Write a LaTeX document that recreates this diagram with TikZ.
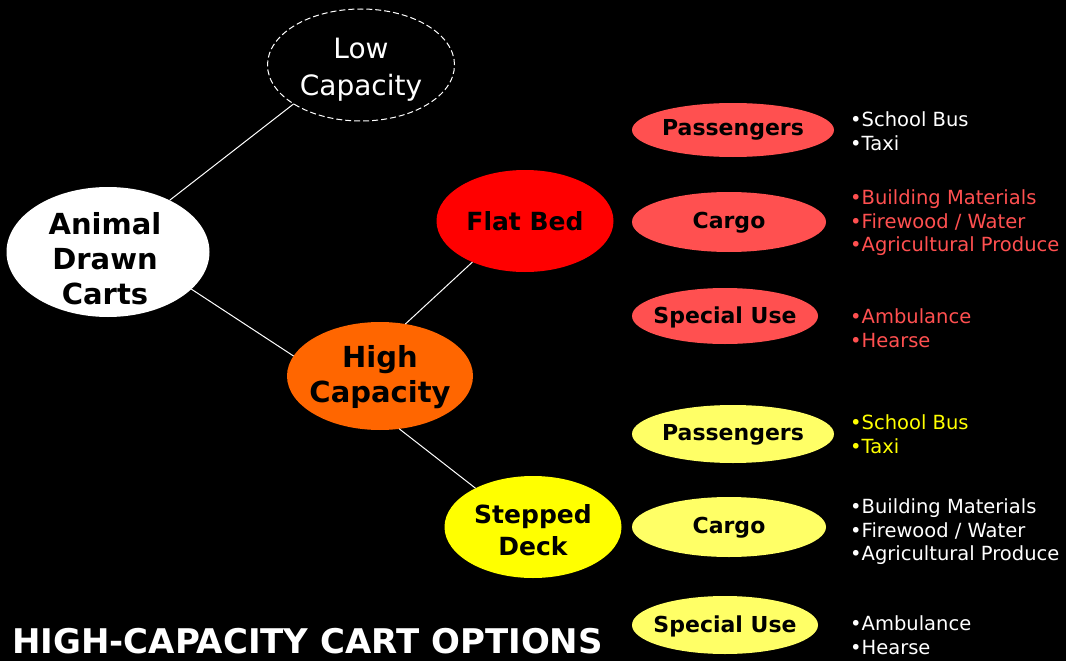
\documentclass[tikz,border=0pt]{standalone}
\usepackage{fontspec}
\setmainfont{DejaVu Sans}
\usetikzlibrary{shapes.geometric}
\definecolor{lightred}{HTML}{FF5050}
\definecolor{cartorange}{HTML}{FF6600}
\definecolor{paleyellow}{HTML}{FFFF66}
\definecolor{deckyellow}{HTML}{FFFF00}
\tikzset{
  oval/.style={ellipse, inner sep=0pt, outer sep=0pt},
  bigtxt/.style={align=center, text=black, font=\fontsize{29}{35}\selectfont\bfseries},
  midtxt/.style={align=center, text=black, font=\fontsize{25}{32}\selectfont\bfseries},
  smalltxt/.style={align=center, text=black, font=\fontsize{22}{26}\selectfont\bfseries},
  listtxt/.style={align=left, anchor=west, inner sep=0pt, font=\fontsize{19.5}{23.5}\selectfont},
  conn/.style={draw=white, line width=1pt},
}
\begin{document}
\begin{tikzpicture}[x=1pt, y=-1pt]
  \fill[black] (0,0) rectangle (1066,661);
  \useasboundingbox (0,0) rectangle (1066,661);

  % root and first level
  \node[oval, fill=white, minimum width=203pt, minimum height=130pt] (animal) at (108,252) {};
  \node[bigtxt] (animal-t) at (105,259) {Animal\\Drawn\\Carts};

  \node[oval, draw=white, dashed, dash pattern=on 6pt off 3pt, line width=1pt,
        minimum width=187pt, minimum height=112pt] (low) at (361,65) {};
  \node[align=center, text=white, font=\fontsize{28}{37}\selectfont] (low-t) at (361,70) {Low\\Capacity};

  \node[oval, fill=cartorange, minimum width=186pt, minimum height=108pt] (high) at (380,376) {};
  \node[bigtxt] (high-t) at (380,377) {High\\Capacity};

  % second level
  \node[oval, fill=red, minimum width=177pt, minimum height=102pt] (flat) at (525,221) {};
  \node[midtxt] (flat-t) at (525,221) {Flat Bed};

  \node[oval, fill=deckyellow, minimum width=177pt, minimum height=102pt] (stepped) at (533,527) {};
  \node[midtxt] (stepped-t) at (533,530) {Stepped\\Deck};

  % flat bed options
  \node[oval, fill=lightred, minimum width=202pt, minimum height=54pt] (fp) at (733,130) {};
  \node[smalltxt] (fp-t) at (733,130) {Passengers};
  \node[oval, fill=lightred, minimum width=194pt, minimum height=60pt] (fc) at (729,222) {};
  \node[smalltxt] (fc-t) at (729,223) {Cargo};
  \node[oval, fill=lightred, minimum width=186pt, minimum height=56pt] (fs) at (725,316) {};
  \node[smalltxt] (fs-t) at (725,317) {Special Use};

  % stepped deck options
  \node[oval, fill=paleyellow, minimum width=202pt, minimum height=58pt] (sp) at (733,434) {};
  \node[smalltxt] (sp-t) at (733,435) {Passengers};
  \node[oval, fill=paleyellow, minimum width=194pt, minimum height=60pt] (sc) at (729,527) {};
  \node[smalltxt] (sc-t) at (729,528) {Cargo};
  \node[oval, fill=paleyellow, minimum width=186pt, minimum height=58pt] (ss) at (725,625) {};
  \node[smalltxt] (ss-t) at (725,626) {Special Use};

  % connectors
  \draw[conn] (animal.40) -- (low.210);
  \draw[conn] (animal.-24) -- (high.167);
  \draw[conn] (high.64) -- (flat.218);
  \draw[conn] (high.-70) -- (stepped.146);

  % example lists
  \node[listtxt, text=white] (l1) at (850,131) {•School Bus\\•Taxi};
  \node[listtxt, text=lightred] (l2) at (850,223) {•Building Materials\\•Firewood / Water\\•Agricultural Produce};
  \node[listtxt, text=lightred] (l3) at (850,328) {•Ambulance\\•Hearse};
  \node[listtxt, text=deckyellow] (l4) at (850,434) {•School Bus\\•Taxi};
  \node[listtxt, text=white] (l5) at (850,532) {•Building Materials\\•Firewood / Water\\•Agricultural Produce};
  \node[listtxt, text=white] (l6) at (850,635) {•Ambulance\\•Hearse};

  % title
  \node[anchor=base west, inner sep=0pt, text=white, font=\fontsize{34}{36}\selectfont\bfseries] (title) at (12,653) {HIGH-CAPACITY CART OPTIONS};
\end{tikzpicture}
\end{document}
